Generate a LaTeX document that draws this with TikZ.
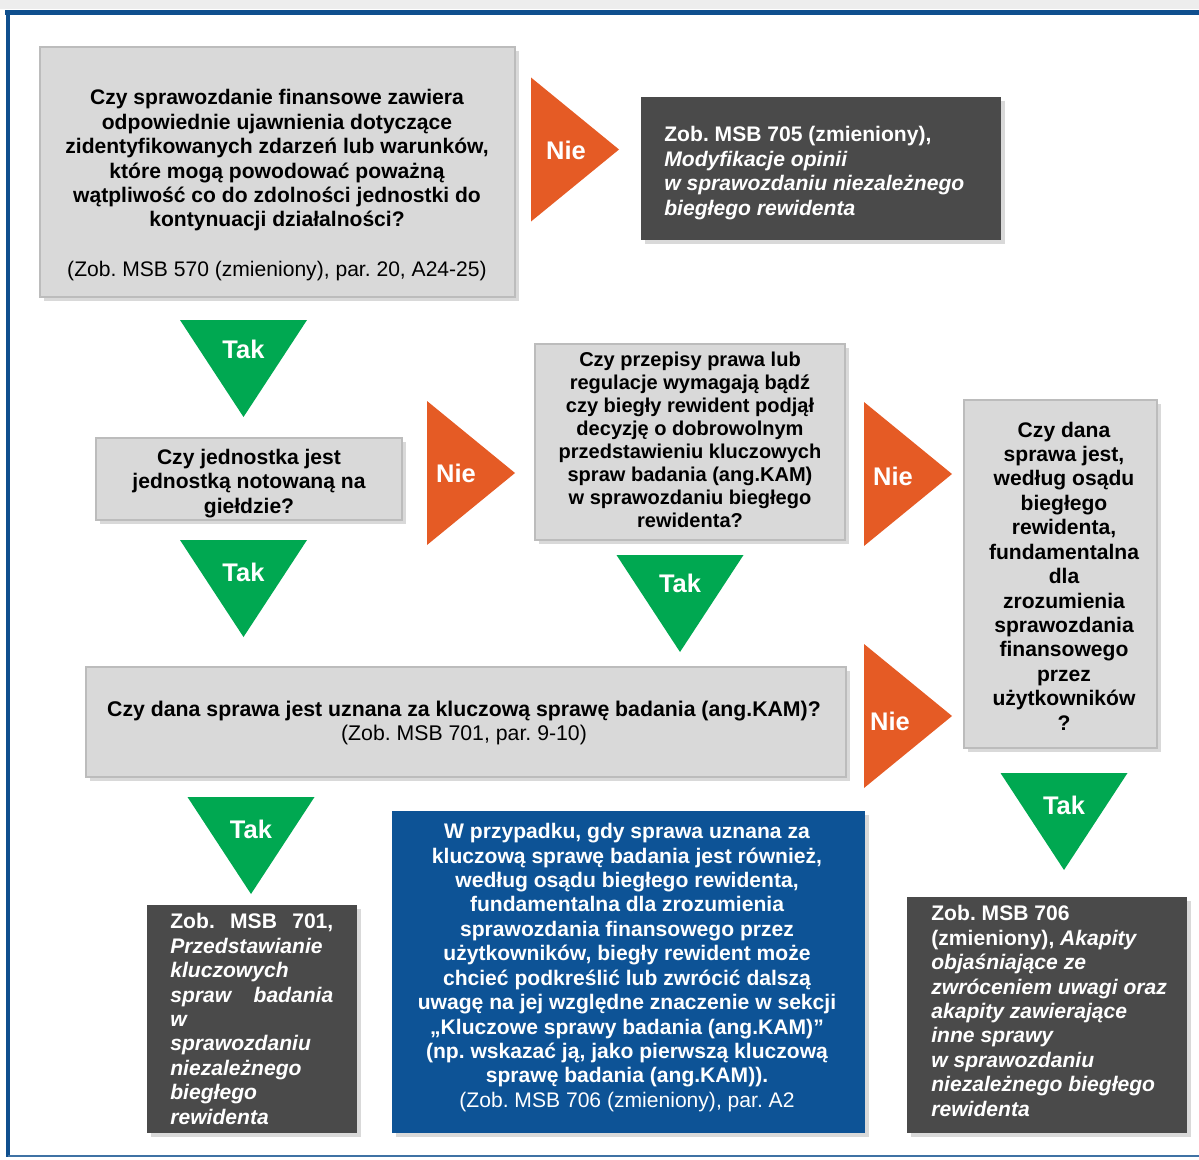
\documentclass[tikz,border=0pt]{standalone}
\usepackage{fontspec}
\setmainfont{Liberation Sans}
\usetikzlibrary{shadows}
\definecolor{qgrey}{HTML}{D9D9D9}
\definecolor{qedge}{HTML}{BCBCBC}
\definecolor{rdark}{HTML}{4A4A4A}
\definecolor{bblue}{HTML}{0D5396}
\definecolor{nieorange}{HTML}{E55B25}
\definecolor{takgreen}{HTML}{00A851}
\definecolor{frameblue}{HTML}{0F4F8E}
\newcommand{\boxfont}{\fontsize{12}{13.9}\selectfont}
\newcommand{\lawfont}{\fontsize{11.4}{13.1}\selectfont}
\tikzstyle{qbox}=[draw=qedge,line width=1.5pt,fill=qgrey,inner sep=0pt,drop shadow={shadow xshift=2.5pt,shadow yshift=-2.5pt,opacity=0.3}]
\tikzstyle{qtext}=[inner sep=0pt,align=center,font=\boxfont\bfseries]
\tikzstyle{rbox}=[fill=rdark,inner sep=0pt,drop shadow={shadow xshift=2.5pt,shadow yshift=-2.5pt,opacity=0.3}]
\tikzstyle{rtext}=[text=white,inner sep=0pt,align=left,anchor=west,font=\boxfont\bfseries]
\tikzstyle{bbox}=[fill=bblue,inner sep=0pt,drop shadow={shadow xshift=2.5pt,shadow yshift=-2.5pt,opacity=0.3}]
\tikzstyle{nieshape}=[fill=nieorange]
\tikzstyle{takshape}=[fill=takgreen]
\tikzstyle{signtext}=[text=white,inner sep=0pt,font=\fontsize{14.5}{16}\selectfont\bfseries]

\begin{document}
\frenchspacing
\begin{tikzpicture}[x=0.02cm,y=-0.02cm]
    \useasboundingbox (0,0) rectangle (1199,1159);
    % frame
    \fill[black!7] (0,0) rectangle (1199,9);
    \draw[frameblue,line width=0.1cm] (5,13) -- (1199,13);
    \draw[frameblue,line width=0.08cm] (8,11) -- (8,1157);
    \draw[frameblue!80,line width=0.04cm] (8,1156) -- (1199,1156);

    % questions
    \node[qbox,minimum width=9.5cm,minimum height=5cm] (q570) at (277.5,172) {};
    \node[qtext] (q570txt) at (277,185) {Czy sprawozdanie finansowe zawiera\\
        odpowiednie ujawnienia dotyczące\\
        zidentyfikowanych zdarzeń lub warunków,\\
        które mogą powodować poważną\\
        wątpliwość co do zdolności jednostki do\\
        kontynuacji działalności?\\[14pt]
        \mdseries (Zob. MSB 570 (zmieniony), par. 20, A24-25)};
    \node[qbox,minimum width=6.12cm,minimum height=1.64cm] (qlisted) at (249,479) {};
    \node[qtext] (qlistedtxt) at (249,483.5) {Czy jednostka jest\\jednostką notowaną na\\giełdzie?};
    \node[qbox,minimum width=6.2cm,minimum height=3.92cm] (qlaw) at (690,442) {};
    \node[qtext,font=\lawfont\bfseries] (qlawtxt) at (690,440)
        {Czy przepisy prawa lub\\regulacje wymagają bądź\\czy biegły rewident podjął\\decyzję o dobrowolnym\\
        przedstawieniu kluczowych\\spraw badania (ang.KAM)\\w sprawozdaniu biegłego\\rewidenta?};
    \node[qbox,minimum width=3.86cm,minimum height=6.96cm] (qfund) at (1060.5,574) {};
    \node[qtext] (qfundtxt) at (1064,576)
        {Czy dana\\sprawa jest,\\według osądu\\biegłego\\rewidenta,\\fundamentalna\\dla\\zrozumienia\\
        sprawozdania\\finansowego\\przez\\użytkowników\\?};
    \node[qbox,minimum width=15.2cm,minimum height=2.2cm] (qkam) at (466,722) {};
    \node[qtext,font=\fontsize{12.1}{13.9}\selectfont\bfseries] (qkamtxt) at (464,723)
        {Czy dana sprawa jest uznana za kluczową sprawę badania (ang.KAM)?\\
        \mdseries (Zob. MSB 701, par. 9-10)};

    % references
    \node[rbox,minimum width=7.2cm,minimum height=2.86cm] (r705) at (821,168.5) {};
    \node[rtext] (r705txt) at (664,173)
        {Zob. MSB 705 (zmieniony),\\\textit{Modyfikacje opinii}\\
        \textit{w sprawozdaniu niezależnego}\\\textit{biegłego rewidenta}};
    \node[rbox,minimum width=4.2cm,minimum height=4.56cm] (r701) at (252,1019) {};
    \node[rtext] (r701txt) at (170,1019)
        {\makebox[3.26cm][s]{Zob. MSB 701,}\\\textit{Przedstawianie}\\\textit{kluczowych}\\
        \textit{\makebox[3.26cm][s]{spraw badania}}\\\textit{w}\\\textit{sprawozdaniu}\\
        \textit{niezależnego}\\\textit{biegłego}\\\textit{rewidenta}};
    \node[bbox,minimum width=9.46cm,minimum height=6.44cm] (b706) at (628.5,972) {};
    \node[qtext,text=white] (b706txt) at (627,967.5)
        {W przypadku, gdy sprawa uznana za\\kluczową sprawę badania jest również,\\
        według osądu biegłego rewidenta,\\fundamentalna dla zrozumienia\\
        sprawozdania finansowego przez\\użytkowników, biegły rewident może\\
        chcieć podkreślić lub zwrócić dalszą\\uwagę na jej względne znaczenie w sekcji\\
        „Kluczowe sprawy badania (ang.KAM)”\\(np. wskazać ją, jako pierwszą kluczową\\
        sprawę badania (ang.KAM)).\\\mdseries (Zob. MSB 706 (zmieniony), par. A2};
    \node[rbox,minimum width=5.6cm,minimum height=4.72cm] (r706) at (1047,1015) {};
    \node[rtext] (r706txt) at (931,1011)
        {Zob. MSB 706\\(zmieniony), \textit{Akapity}\\\textit{objaśniające ze}\\
        \textit{zwróceniem uwagi oraz}\\\textit{akapity zawierające}\\\textit{inne sprawy}\\
        \textit{w sprawozdaniu}\\\textit{niezależnego biegłego}\\\textit{rewidenta}};

    % Nie arrows
    \foreach \x/\y/\lx/\ly [count=\i] in {531/149.5/566/150, 427/473/456/473, 864/474/893/476, 864/716/890/721}{
        \fill[nieshape] (\x,\y-72) -- (\x+88,\y) -- (\x,\y+72) -- cycle;
        \node[signtext] (nie\i) at (\lx,\ly) {Nie};
    }
    % Tak arrows
    \foreach \x/\y/\ly [count=\i] in {243.5/320/349, 243.5/540/572, 680/555/583, 251/797/829, 1064/773/805}{
        \fill[takshape] (\x-63.5,\y) -- (\x+63.5,\y) -- (\x,\y+97) -- cycle;
        \node[signtext] (tak\i) at (\x,\ly) {Tak};
    }
\end{tikzpicture}
\end{document}
